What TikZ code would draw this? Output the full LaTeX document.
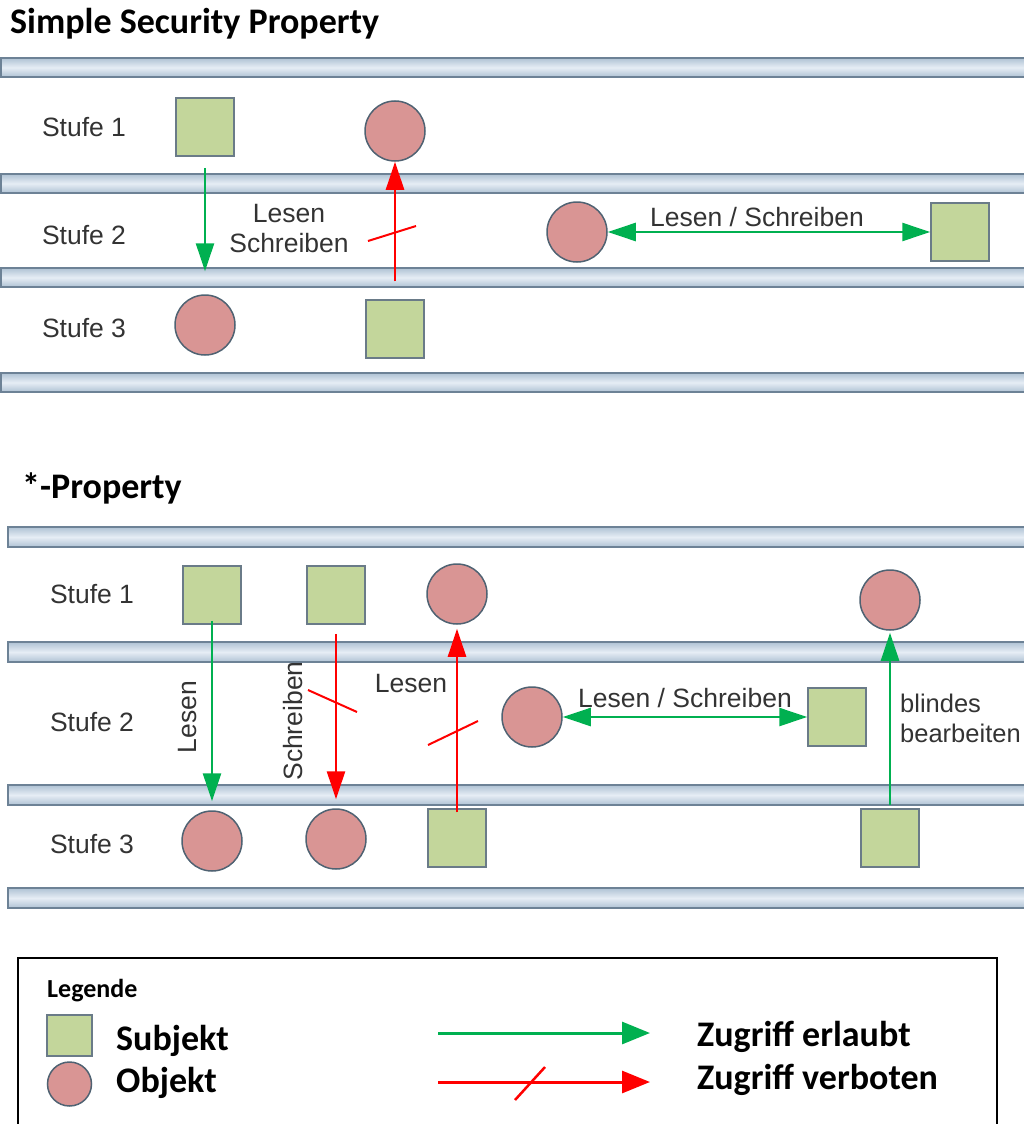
\documentclass[tikz,border=0pt]{standalone}
\usepackage{fontspec}
\setmainfont{Liberation Sans}
\newfontfamily\calib{Carlito}
\usetikzlibrary{arrows.meta,calc}
\definecolor{sqfill}{HTML}{C3D69B}
\definecolor{sqdraw}{HTML}{6A7B88}
\definecolor{cfill}{HTML}{D99594}
\definecolor{cdraw}{HTML}{4F6272}
\definecolor{gr}{HTML}{00B050}
\definecolor{rd}{HTML}{FF0000}
\definecolor{bardraw}{HTML}{6D8296}
\definecolor{barlight}{HTML}{E6EDF5}
\definecolor{bardark}{HTML}{AFC2D4}
\definecolor{txt}{HTML}{333333}
\begin{document}
\begin{tikzpicture}[x=1pt,y=-1pt,
 subj/.style={draw=sqdraw,line width=1.5pt,fill=sqfill,minimum size=58pt,inner sep=0pt},
 obj/.style={circle,draw=cdraw,line width=1.5pt,fill=cfill,minimum size=60pt,inner sep=0pt},
 bar/.style={draw=bardraw,line width=1.5pt,top color=bardark,bottom color=bardark,middle color=barlight},
 lbl/.style={font=\fontsize{26.5}{30}\selectfont,text=txt,inner sep=0pt},
 ttl/.style={font=\calib\bfseries\fontsize{36}{40}\selectfont,anchor=west,inner sep=0pt},
 leg/.style={font=\calib\bfseries\fontsize{36}{40}\selectfont,anchor=west,inner sep=0pt},
 ok/.style={draw=gr,line width=2.5pt,-{Triangle[length=28pt,width=18pt]}},
 okok/.style={draw=gr,line width=2.5pt,{Triangle[length=28pt,width=18pt]}-{Triangle[length=28pt,width=18pt]}},
 no/.style={draw=rd,line width=2.5pt,-{Triangle[length=28pt,width=18pt]}},
 slash/.style={draw=rd,line width=2pt},
]
\clip (0,0) rectangle (1024,1124);
\useasboundingbox (0,0) rectangle (1024,1124);

% ---------- Simple Security Property ----------
\node[ttl] (t1) at (10,24) {Simple Security Property};
\foreach \y in {58,174,268,373}
  \path[bar] (1,\y) rectangle (1030,\y+19);
\node[lbl] (a1) at (84,127) {Stufe 1};
\node[lbl] (a2) at (84,235) {Stufe 2};
\node[lbl] (a3) at (84,328) {Stufe 3};

\node[subj] (s11) at (205,127) {};
\node[obj]  (o12) at (395,131) {};
\node[obj]  (o21) at (577,232) {};
\node[subj] (s22) at (960,232) {};
\node[obj]  (o31) at (205,325) {};
\node[subj] (s32) at (395,329) {};

\draw[ok, shorten <=11pt, shorten >=23pt] (s11) -- (o31);
\draw[no, shorten <=18pt] (s32) -- (o12);
\draw[slash] (368,241) -- (416,226);
\node[lbl,align=center] (l1) at (289,229) {Lesen\\Schreiben};
\draw[okok] (o21) -- (s22);
\node[lbl] (l2) at (757,217) {Lesen / Schreiben};

% ---------- *-Property ----------
\node[ttl] (t2) at (22,488) {*-Property};
\foreach \y in {527,642,785,888}
  \path[bar] (8,\y) rectangle (1030,\y+20);
\node[lbl] (b1) at (92,594) {Stufe 1};
\node[lbl] (b2) at (92,722) {Stufe 2};
\node[lbl] (b3) at (92,844) {Stufe 3};

\node[subj] (sA) at (212,595) {};
\node[subj] (sB) at (336,595) {};
\node[obj]  (oC) at (457,594) {};
\node[obj]  (oD) at (890,600) {};
\node[obj]  (oE) at (532,717) {};
\node[subj] (sF) at (837,717) {};
\node[obj]  (oG) at (212,841) {};
\node[obj]  (oH) at (336,839) {};
\node[subj] (sI) at (457,838) {};
\node[subj] (sJ) at (890,838) {};

\draw[ok, shorten <=-4pt, shorten >=9pt] (sA) -- (oG);
\node[lbl,rotate=90] (l3) at (188,717) {Lesen};
\draw[no, shorten <=9pt, shorten >=9pt] (sB) -- (oH);
\node[lbl,rotate=90] (l4) at (293,721) {Schreiben};
\draw[slash] (308,690) -- (357,712);
\draw[no, shorten <=-4pt, shorten >=4pt] (sI) -- (oC);
\node[lbl] (l5) at (411,684) {Lesen};
\draw[slash] (428,745) -- (478,721);
\draw[okok] (oE) -- (sF);
\node[lbl] (l6) at (685,698) {Lesen / Schreiben};
\draw[ok, shorten <=3pt, shorten >=2pt] (sJ) -- (oD);
\node[lbl,font=\fontsize{25.5}{30}\selectfont,align=left,anchor=west] (l7) at (900,718) {blindes\\bearbeiten};

% ---------- Legende ----------
\draw[black,line width=2pt] (18,958) rectangle (997,1140);
\node[font=\calib\bfseries\fontsize{26}{30}\selectfont,anchor=west,inner sep=0pt] (lg) at (47,991) {Legende};
\node[draw=sqdraw,line width=1.5pt,fill=sqfill,minimum width=45pt,minimum height=41pt,inner sep=0pt] (ls) at (69.5,1035.5) {};
\node[circle,draw=cdraw,line width=1.5pt,fill=cfill,minimum size=44pt,inner sep=0pt] (lo) at (69.5,1084) {};
\node[leg] (ts) at (116,1041) {Subjekt};
\node[leg] (to) at (116,1083) {Objekt};
\coordinate (g1) at (438,1033);
\coordinate (g2) at (650,1033);
\coordinate (r1) at (438,1082);
\coordinate (r2) at (650,1082);
\draw[draw=gr,line width=3pt,-{Triangle[length=28pt,width=22pt]}] (g1) -- (g2);
\draw[draw=rd,line width=3pt,-{Triangle[length=28pt,width=22pt]}] (r1) -- (r2);
\draw[slash,line width=2.5pt] (515,1100) -- (545,1067);
\node[leg] (te) at (697,1037) {Zugriff erlaubt};
\node[leg] (tv) at (697,1080) {Zugriff verboten};
\end{tikzpicture}
\end{document}
